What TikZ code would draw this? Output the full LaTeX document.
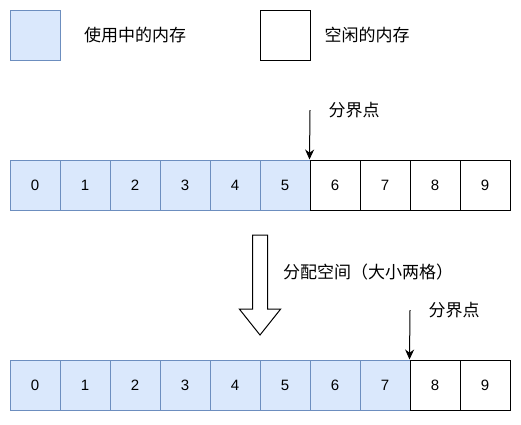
\documentclass[tikz,border=0pt]{standalone}
\usepackage{fontspec}
\setmainfont{Liberation Sans}
\newfontfamily\cjk{Noto Sans CJK SC}
\usetikzlibrary{arrows.meta,positioning,shapes.arrows}
\definecolor{usedfill}{HTML}{DAE8FC}
\definecolor{usedline}{HTML}{6C8EBF}
\tikzset{
  used/.style={draw=usedline,fill=usedfill,line width=1pt,minimum width=50pt,minimum height=50pt,inner sep=0pt,font=\fontsize{15}{18}\selectfont},
  free/.style={draw=black,fill=white,line width=1pt,minimum width=50pt,minimum height=50pt,inner sep=0pt,font=\fontsize{15}{18}\selectfont},
  lbl/.style={font=\cjk\fontsize{17}{20}\selectfont,inner sep=0pt},
  ptr/.style={-{Stealth[length=10pt,width=9pt]},line width=1pt,draw=black},
  bigarrow/.style={draw=black,fill=white,line width=1pt,single arrow,single arrow head extend=13pt,single arrow tip angle=77,inner sep=7pt,minimum height=100pt,shape border rotate=270,outer sep=0pt}
}
\begin{document}
\begin{tikzpicture}[x=1pt,y=-1pt]
  \useasboundingbox (0,0) rectangle (521,424);
  % legend
  \node[used] (keyused) at (35,35) {};
  \node[lbl] (keyusedtext) at (135,35) {使用中的内存};
  \node[free] (keyfree) at (285,35) {};
  \node[lbl] (keyfreetext) at (367,35) {空闲的内存};
  % before allocation
  \foreach \i in {0,...,5} \node[used] (a\i) at (35+50*\i,185) {\i};
  \foreach \i in {6,...,9} \node[free] (a\i) at (35+50*\i,185) {\i};
  \coordinate (s1) at (310,110);
  \node[lbl] (t1) at (354,110) {分界点};
  \draw[ptr] (s1) -- (a6.north west);
  % allocation step
  \node[bigarrow,anchor=tail] (step) at (260,235) {};
  \node[lbl] (steptext) at (368,272) {分配空间（大小两格）};
  % after allocation
  \foreach \i in {0,...,7} \node[used] (b\i) at (35+50*\i,385) {\i};
  \foreach \i in {8,9} \node[free] (b\i) at (35+50*\i,385) {\i};
  \coordinate (s2) at (410,310);
  \node[lbl] (t2) at (454,310) {分界点};
  \draw[ptr] (s2) -- (b8.north west);
\end{tikzpicture}
\end{document}
